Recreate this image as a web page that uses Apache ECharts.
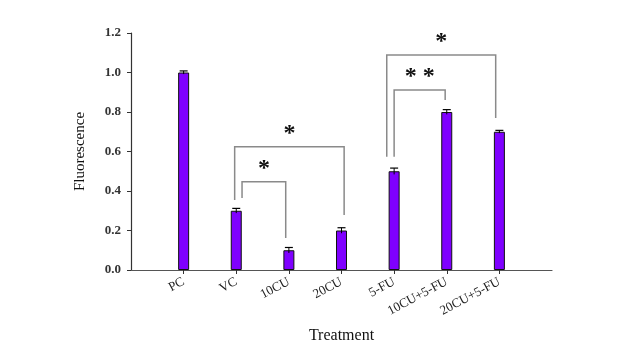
<!DOCTYPE html>
<html><head><meta charset="utf-8">
<script src="https://cdn.jsdelivr.net/npm/echarts@6/dist/echarts.min.js"></script>
<style>html,body{margin:0;padding:0;background:#fff}#c{width:640px;height:360px}</style>
</head><body><div id="c"></div>
<script>
var categories = ['PC','VC','10CU','20CU','5-FU','10CU+5-FU','20CU+5-FU'];
var positions = [1,2,3,4,5,6,7];
var values = [1.0, 0.30, 0.10, 0.20, 0.50, 0.80, 0.70];
var errors = [0.008, 0.012, 0.014, 0.014, 0.016, 0.012, 0.007];
var yTicks = [0, 0.2, 0.4, 0.6, 0.8, 1.0, 1.2];
// brackets: [xLeft, xRight, yTop, yLeftEnd, yRightEnd, label]
var bracketXL = [2.11, 1.97, 5.0, 4.86];
var bracketXR = [2.94, 4.05, 5.97, 6.93];
var bracketTop = [0.447, 0.624, 0.911, 1.089];
var bracketLeftEnd = [0.365, 0.354, 0.574, 0.574];
var bracketRightEnd = [0.162, 0.278, 0.861, 0.77];
var bracketLabel = ['*', '*', '* *', '*'];

var barData = positions.map(function(p,i){return [p, values[i]];});
var errData = positions.map(function(p,i){return [p, values[i]-errors[i], values[i]+errors[i]];});
var brData = bracketXL.map(function(x,i){return [x, bracketXR[i], bracketTop[i], bracketLeftEnd[i], bracketRightEnd[i], i];});

var serif = '"Liberation Serif","Times New Roman",serif';
var chart = echarts.init(document.getElementById('c'));
chart.setOption({
  animation:false,
  grid:{left:131,right:88,top:33,bottom:90,containLabel:false},
  xAxis:{type:'value',min:0,max:8,interval:1,
    name:'Treatment',nameLocation:'middle',nameGap:58,
    nameTextStyle:{fontFamily:serif,fontSize:16,color:'#111'},
    axisLine:{lineStyle:{color:'#555',width:1.2}},
    axisTick:{show:true,length:4,lineStyle:{color:'#333'},customValues:positions},
    splitLine:{show:false},
    axisLabel:{customValues:positions,rotate:28,fontFamily:serif,fontSize:13,color:'#222',margin:11,
      formatter:function(v){var i=positions.indexOf(v);return i>=0?categories[i]:'';}}
  },
  yAxis:{type:'value',min:0,max:1.2,interval:0.2,
    name:'Fluorescence',nameLocation:'middle',nameGap:43,
    nameTextStyle:{fontFamily:serif,fontSize:15,color:'#111'},
    axisLine:{show:true,lineStyle:{color:'#333',width:1.2}},
    axisTick:{show:true,length:4,lineStyle:{color:'#333'}},
    splitLine:{show:false},
    axisLabel:{fontFamily:serif,fontSize:13,fontWeight:'bold',color:'#333',margin:10,
      formatter:function(v){return v.toFixed(1);}}
  },
  series:[
    {type:'bar',data:barData,barWidth:11,itemStyle:{color:'#7f00ff',borderColor:'#111',borderWidth:1},z:2},
    {type:'custom',data:errData,z:3,renderItem:function(params,api){
      var x=api.value(0);var lo=api.coord([x,api.value(1)]);var hi=api.coord([x,api.value(2)]);
      var w=4;
      return {type:'group',children:[
        {type:'line',shape:{x1:hi[0],y1:hi[1],x2:lo[0],y2:lo[1]},style:{stroke:'#000',lineWidth:1}},
        {type:'line',shape:{x1:hi[0]-w,y1:hi[1],x2:hi[0]+w,y2:hi[1]},style:{stroke:'#000',lineWidth:1.2}}
      ]};
    }},
    {type:'custom',data:brData,z:4,renderItem:function(params,api){
      var xl=api.value(0),xr=api.value(1),yt=api.value(2),yl=api.value(3),yr=api.value(4);
      var pTL=api.coord([xl,yt]),pTR=api.coord([xr,yt]),pL=api.coord([xl,yl]),pR=api.coord([xr,yr]);
      var lbl=bracketLabel[api.value(5)];
      return {type:'group',children:[
        {type:'polyline',shape:{points:[pL,pTL,pTR,pR]},style:{stroke:'#8a8a8a',lineWidth:1.5,fill:null}},
        {type:'text',style:{text:lbl,x:(pTL[0]+pTR[0])/2,y:pTL[1]-1,align:'center',verticalAlign:'bottom',
          font:'bold 24px '+serif,fill:'#111'}}
      ]};
    }}
  ]
});
</script></body></html>
